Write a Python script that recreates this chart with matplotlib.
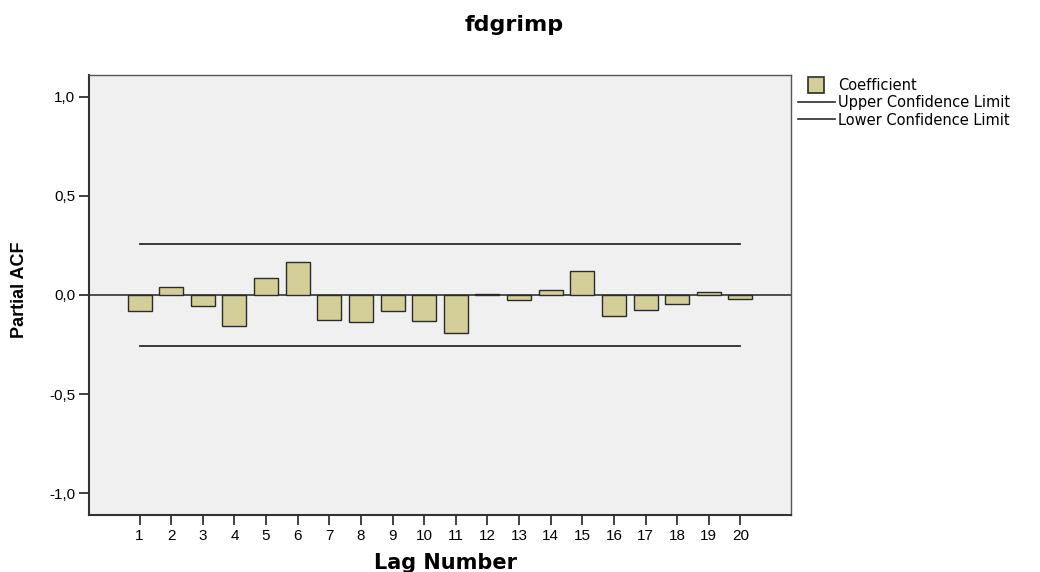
import numpy as np
import matplotlib
matplotlib.use("Agg")
import matplotlib.pyplot as plt
from matplotlib.lines import Line2D

# partial autocorrelation per lag
lags = list(range(1, 21))
pacf = [-0.083, 0.042, -0.056, -0.155, 0.086, 0.168, -0.126, -0.135, -0.081, -0.133,
        -0.194, 0.005, -0.024, 0.023, 0.123, -0.106, -0.076, -0.047, 0.017, -0.022]
upper_limit = 0.255
lower_limit = -0.255
ytick_vals = [-1.0, -0.5, 0.0, 0.5, 1.0]
ytick_labels = ["-1,0", "-0,5", "0,0", "0,5", "1,0"]

plt.rcParams['font.family'] = ['Liberation Sans', 'DejaVu Sans']

fig = plt.figure(figsize=(10.4, 5.72), dpi=100)
ax = fig.add_axes([89/1040, 1-515/572, 702/1040, 440/572])
ax.set_facecolor('#f0f0f0')

ax.bar(lags, pacf, width=0.76, color='#d4cf98', edgecolor='#2b2b2b', linewidth=1.0, zorder=3)
ax.axhline(0, color='#333333', linewidth=1.2, zorder=2)
ax.plot([lags[0], lags[-1]], [upper_limit, upper_limit], color='#2b2b2b', linewidth=1.3, zorder=2)
ax.plot([lags[0], lags[-1]], [lower_limit, lower_limit], color='#2b2b2b', linewidth=1.3, zorder=2)

ax.set_xlim(-0.6, 21.6)
ax.set_ylim(-1.11, 1.11)
ax.set_xticks(lags)
ax.set_xticklabels([str(l) for l in lags], fontsize=11)
ax.set_yticks(ytick_vals)
ax.set_yticklabels(ytick_labels, fontsize=11)
ax.tick_params(axis='both', direction='out', length=7, width=1.3, color='#333333', pad=3)

for s in ['left', 'bottom']:
    ax.spines[s].set_color('#333333')
    ax.spines[s].set_linewidth(1.5)
for s in ['top', 'right']:
    ax.spines[s].set_color('#555555')
    ax.spines[s].set_linewidth(1.0)

fig.text(514/1040, 1-25/572, "fdgrimp", ha='center', va='center',
         fontsize=16, fontweight='bold', family=['DejaVu Sans'])
fig.text(445/1040, 1-563/572, "Lag Number", ha='center', va='center',
         fontsize=15, fontweight='bold', family=['DejaVu Sans'])
fig.text(20/1040, 1-290/572, "Partial ACF", ha='center', va='center', rotation=90,
         fontsize=13, fontweight='bold')

handles = [Line2D([], [], marker='s', markersize=11, markerfacecolor='#d4cf98',
                  markeredgecolor='#2b2b2b', markeredgewidth=1.2, linestyle='none'),
           Line2D([0], [0], color='#2b2b2b', linewidth=1.2),
           Line2D([0], [0], color='#2b2b2b', linewidth=1.2)]
labels = ["Coefficient", "Upper Confidence Limit", "Lower Confidence Limit"]
fig.legend(handles, labels, loc='upper left', bbox_to_anchor=(788/1040, 1-68/572),
           frameon=False, prop={'family': 'DejaVu Sans', 'size': 10.5},
           handlelength=2.5, handletextpad=0.25, labelspacing=0.15, borderpad=0.2)

fig.savefig("out.png", dpi=100)
